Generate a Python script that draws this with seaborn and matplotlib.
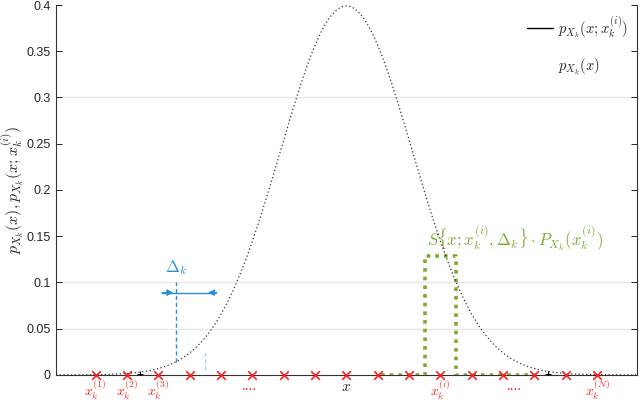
import numpy as np
import pandas as pd
import matplotlib
matplotlib.use("Agg")
import matplotlib.pyplot as plt
import seaborn as sns
from matplotlib.lines import Line2D

# ---------------- data ----------------
x_grid = np.linspace(-4.4, 4.4, 881)
pdf_vals = np.exp(-x_grid**2 / 2) / np.sqrt(2 * np.pi)   # standard normal density p_X(x)

sample_points = np.linspace(-3.8, 3.8, 17)               # x_k^(j) markers
delta_k = 0.475

# indicator S{x; x_k^(i), Δ_k} · P(x_k^(i))
s_x = [0.53, 1.19, 1.19, 1.66, 1.66, 2.88]
s_y = [0.0, 0.0, 0.129, 0.129, 0.0, 0.0]

sample_labels = [r"$x_k^{(1)}$", r"$x_k^{(2)}$", r"$x_k^{(3)}$", r"....",
                 r"$x_k^{(i)}$", r"....", r"$x_k^{(N)}$"]
sample_label_x = [-3.8, -3.325, -2.85, -1.47, 1.425, 2.55, 3.8]

y_ticks = [0, 0.05, 0.1, 0.15, 0.2, 0.25, 0.3, 0.35, 0.4]
y_tick_labels = ["0", "0.05", "0.1", "0.15", "0.2", "0.25", "0.3", "0.35", "0.4"]
grid_levels = [0.05, 0.1, 0.3]

# Δ_k annotation
delta_line_x = -2.58
delta_line2_x = -2.14
delta_arrow_y = 0.089

# ---------------- style ----------------
sns.set_theme(style="white")
plt.rcParams["font.family"] = ["Liberation Sans", "DejaVu Sans"]
plt.rcParams["mathtext.fontset"] = "cm"

fig = plt.figure(figsize=(6.4, 4.01), dpi=100)
ax = fig.add_axes([0.0875, 0.065, 0.9075, 0.9225])

green = "#77ac30"
blue = "#2a8fd6"

for g in grid_levels:
    ax.axhline(g, color="#e6e6e6", lw=0.9, zorder=0)

# green indicator (dotted)
df_s = pd.DataFrame({"x": s_x, "y": s_y})
ax.plot(df_s["x"], df_s["y"], color=green, lw=2.6, ls=(0, (1, 1.4)), zorder=3,
        solid_capstyle="butt")

# Gaussian density
df_pdf = pd.DataFrame({"x": x_grid, "p": pdf_vals})
sns.lineplot(data=df_pdf, x="x", y="p", ax=ax, color="#333333", lw=0.9,
             linestyle=(0, (1, 2)), zorder=4)

# red sample markers
df_pts = pd.DataFrame({"x": sample_points, "y": np.zeros_like(sample_points)})
sns.scatterplot(data=df_pts, x="x", y="y", ax=ax, marker="x", color="#ff2020",
                s=38, linewidth=1.2, zorder=6, clip_on=False)

# tiny black marks near the tails
ax.plot([-3.12, 3.05], [0.0015, 0.0015], ls="none", marker="+", ms=5,
        color="black", mew=0.8, zorder=5)

# Δ_k annotation
ax.plot([delta_line_x, delta_line_x], [0.014, 0.1], color=blue, lw=1.0,
        ls=(0, (3, 2)), zorder=5)
ax.plot([delta_line2_x, delta_line2_x], [0.005, 0.024], color="#9fd0f0", lw=1.0,
        ls=(0, (3, 2)), zorder=5)
ax.plot([-2.79, -1.97], [delta_arrow_y, delta_arrow_y], color=blue, lw=1.0, zorder=5)
ax.annotate("", xy=(-2.62, delta_arrow_y), xytext=(-2.79, delta_arrow_y),
            arrowprops=dict(arrowstyle="-|>", color=blue, lw=1.0,
                            mutation_scale=9, shrinkA=0, shrinkB=0))
ax.annotate("", xy=(-2.1, delta_arrow_y), xytext=(-1.97, delta_arrow_y),
            arrowprops=dict(arrowstyle="-|>", color=blue, lw=1.0,
                            mutation_scale=9, shrinkA=0, shrinkB=0))
ax.text(delta_line_x, 0.106, r"$\Delta_k$", color=blue, fontsize=12,
        ha="center", va="bottom")

# green formula
ax.text(1.22, 0.133, r"$S\{x;x_k^{(i)},\Delta_k\}\cdot P_{X_k}(x_k^{(i)})$",
        color=green, fontsize=12, ha="left", va="bottom")

# sample labels under the axis
for lx, lt in zip(sample_label_x, sample_labels):
    ax.text(lx, -0.004, lt, color="#ff2020", fontsize=10, ha="center", va="top")
ax.text(0, -0.006, r"$x$", color="#222222", fontsize=11, ha="center", va="top")

# axes
ax.set_xlim(-4.4, 4.4)
ax.set_ylim(0, 0.4)
ax.set_xticks([])
ax.set_yticks(y_ticks)
ax.set_yticklabels(y_tick_labels)
ax.tick_params(axis="y", direction="in", length=4, width=0.7, labelsize=9,
               labelcolor="#262626", right=True, left=True, pad=4)
ax.set_xlabel("")
ax.set_ylabel(r"$p_{X_k}(x), p_{X_k}(x;x_k^{(i)})$", fontsize=11.5, color="#262626",
              labelpad=4)
ax.yaxis.set_label_coords(-0.052, 0.5)
for side in ["left", "right", "bottom"]:
    ax.spines[side].set_color("#333333")
    ax.spines[side].set_linewidth(0.8)
ax.spines["top"].set_visible(False)

# legend
handles = [Line2D([0], [0], color="black", lw=1.0),
           Line2D([0], [0], color="white", lw=1.0)]
labels = [r"$p_{X_k}(x;x_k^{(i)})$", r"$p_{X_k}(x)$"]
ax.legend(handles, labels, loc="upper right", bbox_to_anchor=(1.0, 1.0),
          frameon=False, fontsize=10.5, handlelength=1.8, labelspacing=1.2,
          handletextpad=0.3, borderaxespad=0.2)

fig.savefig("out.png", dpi=100)
